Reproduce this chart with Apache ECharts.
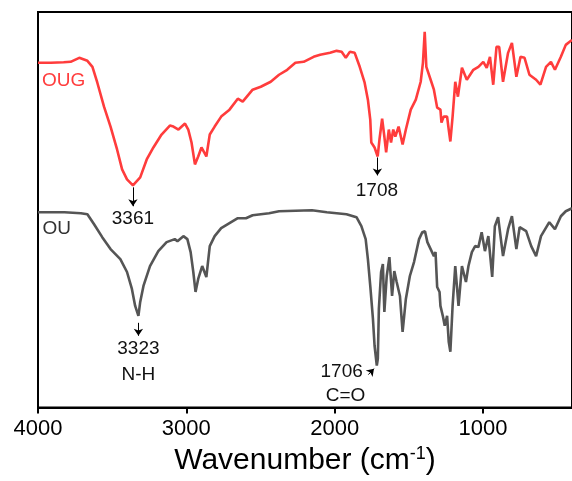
<!DOCTYPE html>
<html lang="en">
<head>
    <meta charset="UTF-8">
    <title>FTIR OUG / OU</title>
    <style>
        html, body { margin: 0; padding: 0; background: #fff; }
        #chart { width: 572px; height: 481px; }
    </style>
</head>
<body>
<div id="chart"></div>
<script src="https://cdn.jsdelivr.net/npm/echarts@6.0.0/dist/echarts.min.js"></script>
<script>
    // wavenumbers (cm-1) and transmittance (arbitrary offset units)
    let ougWave = [4000, 3913, 3827, 3780, 3722, 3667, 3633, 3600, 3555, 3511, 3467, 3433, 3400, 3360, 3311, 3267, 3222, 3167, 3111,
        3087, 3053, 3009, 2987, 2965, 2942, 2920, 2898, 2865, 2842, 2809, 2765, 2709, 2653, 2620, 2553, 2498, 2431, 2375, 2320, 2265,
        2209, 2142, 2098, 2031, 1987, 1953, 1925, 1898, 1865, 1831, 1798, 1776, 1760, 1753, 1731, 1710, 1698, 1680, 1665, 1653, 1635,
        1620, 1605, 1591, 1569, 1542, 1520, 1487, 1453, 1420, 1405, 1393, 1382, 1353, 1331, 1309, 1287, 1280, 1265, 1242, 1231, 1220,
        1205, 1187, 1169, 1142, 1109, 1065, 1031, 998, 975, 953, 931, 909, 891, 865, 831, 805, 775, 747, 720, 687, 642, 613, 575, 542,
        515, 475, 442, 400];
    let ougT = [346, 346, 346.5, 347, 351, 348, 342, 326, 302, 282, 259, 239, 229, 223, 231, 249, 261, 274, 283,
        282, 279, 285, 279, 266, 244, 252, 261, 252, 274, 282, 292, 299, 310, 307, 319, 322, 327, 334, 339, 346,
        347, 352, 354, 356, 358, 357, 351, 357, 356, 342, 326, 309, 289, 266, 261, 252, 269, 290, 272, 256, 279,
        266, 279, 272, 282, 264, 279, 299, 309, 327, 346, 377, 342, 329, 319, 301, 299, 286, 292, 292, 279, 267,
        292, 327, 312, 341, 329, 339, 342, 347, 341, 352, 324, 362, 362, 327, 356, 366, 332, 352, 351, 334, 329, 324, 342, 347,
        339, 352, 364, 369];

    let ouWave = [4000, 3911, 3822, 3711, 3667, 3622, 3567, 3511, 3445, 3400, 3367, 3345, 3323, 3311, 3289, 3245, 3189, 3133, 3078,
        3060, 3020, 2993, 2971, 2953, 2938, 2920, 2893, 2865, 2842, 2809, 2765, 2709, 2653, 2598, 2553, 2442, 2375, 2153, 2053, 1920,
        1853, 1820, 1791, 1776, 1760, 1742, 1731, 1716, 1709, 1702, 1687, 1675, 1665, 1649, 1631, 1613, 1598, 1582, 1560, 1542, 1520,
        1493, 1465, 1431, 1409, 1391, 1375, 1353, 1331, 1320, 1309, 1293, 1287, 1271, 1258, 1242, 1231, 1220, 1205, 1187, 1165, 1142,
        1115, 1098, 1075, 1053, 1031, 1009, 987, 964, 938, 920, 898, 865, 831, 805, 775, 753, 709, 675, 642, 609, 553, 515, 475, 442, 400];
    let ouT = [196, 196, 196, 195, 194, 184, 171, 159, 149, 136, 119, 102, 92, 106, 122, 142, 157, 166, 169,
        167, 172, 169, 156, 136, 116, 129, 142, 131, 162, 172, 180, 185, 190, 190, 193, 195, 197, 198, 196, 194,
        191, 182, 169, 149, 122, 89, 62, 42, 49, 99, 136, 144, 96, 132, 151, 112, 137, 126, 112, 76, 109,
        132, 146, 169, 176, 177, 166, 159, 152, 156, 121, 116, 102, 92, 82, 92, 66, 56, 102, 142, 102, 142,
        126, 142, 156, 162, 161, 176, 157, 172, 131, 182, 191, 152, 179, 192, 159, 181, 177, 162, 152, 172, 186, 179, 192, 197, 200];

    let xTicks = [4000, 3000, 2000, 1000];

    function pairs(xs, ys) {
        return xs.map((x, i) => [x, ys[i]]);
    }

    let font = 'Arial, "Liberation Sans", sans-serif';

    function arrow(x, y1, y2) {
        return [{ coord: [x, y1] }, { coord: [x, y2] }];
    }
    function note(text, x, y, color) {
        return {
            coord: [x, y], symbol: 'circle', symbolSize: 0,
            label: { show: true, position: 'inside', formatter: text, color: color || '#111',
                fontSize: 19, fontFamily: font }
        };
    }

    let chart = echarts.init(document.getElementById('chart'));

    let option = {
        animation: false,
        grid: {
            left: 38, top: 12, width: 540, height: 397,
            show: true, borderColor: '#000', borderWidth: 2, backgroundColor: 'transparent'
        },
        xAxis: {
            type: 'value', inverse: true, min: 400, max: 4000,
            axisLine: { show: true, lineStyle: { color: '#000', width: 2 } },
            axisTick: { show: true, customValues: xTicks, length: 6, lineStyle: { color: '#000', width: 2 } },
            axisLabel: { customValues: xTicks, formatter: v => String(v), color: '#000', fontSize: 22, fontFamily: font, margin: 10 },
            splitLine: { show: false },
            name: 'Wavenumber (cm{sup|-1})',
            nameLocation: 'middle', nameGap: 38,
            nameTextStyle: {
                color: '#000', fontSize: 30, fontFamily: font,
                rich: { sup: { fontSize: 18, fontFamily: font, color: '#000', verticalAlign: 'top', padding: [0, 0, 13, 0] } }
            }
        },
        yAxis: {
            type: 'value', min: 0, max: 397, show: false
        },
        series: [
            {
                name: 'OUG', type: 'line', data: pairs(ougWave, ougT), showSymbol: false,
                lineStyle: { color: '#ff3c3c', width: 2.6 }, itemStyle: { color: '#ff3c3c' },
                markLine: {
                    silent: true, symbol: ['none', 'arrow'], symbolSize: 7,
                    lineStyle: { color: '#000', width: 1, type: 'solid' }, label: { show: false },
                    data: [arrow(3360, 221, 202), arrow(1712, 251, 233)]
                },
                markPoint: {
                    silent: true,
                    data: [note('OUG', 3827, 328, '#ff3c3c'), note('3361', 3360, 189), note('1708', 1715, 218)]
                }
            },
            {
                name: 'OU', type: 'line', data: pairs(ouWave, ouT), showSymbol: false,
                lineStyle: { color: '#555', width: 2.6 }, itemStyle: { color: '#555' },
                markLine: {
                    silent: true, symbol: ['none', 'arrow'], symbolSize: 7,
                    lineStyle: { color: '#000', width: 1, type: 'solid' }, label: { show: false },
                    data: [arrow(3323, 85, 72), [{ coord: [1773, 33] }, { coord: [1735, 39] }]]
                },
                markPoint: {
                    silent: true,
                    data: [note('OU', 3873, 179, '#333'), note('3323', 3323, 59), note('N-H', 3323, 33),
                        note('1706', 1953, 36), note('C=O', 1927, 12)]
                }
            }
        ]
    };

    chart.setOption(option);
</script>
</body>
</html>
